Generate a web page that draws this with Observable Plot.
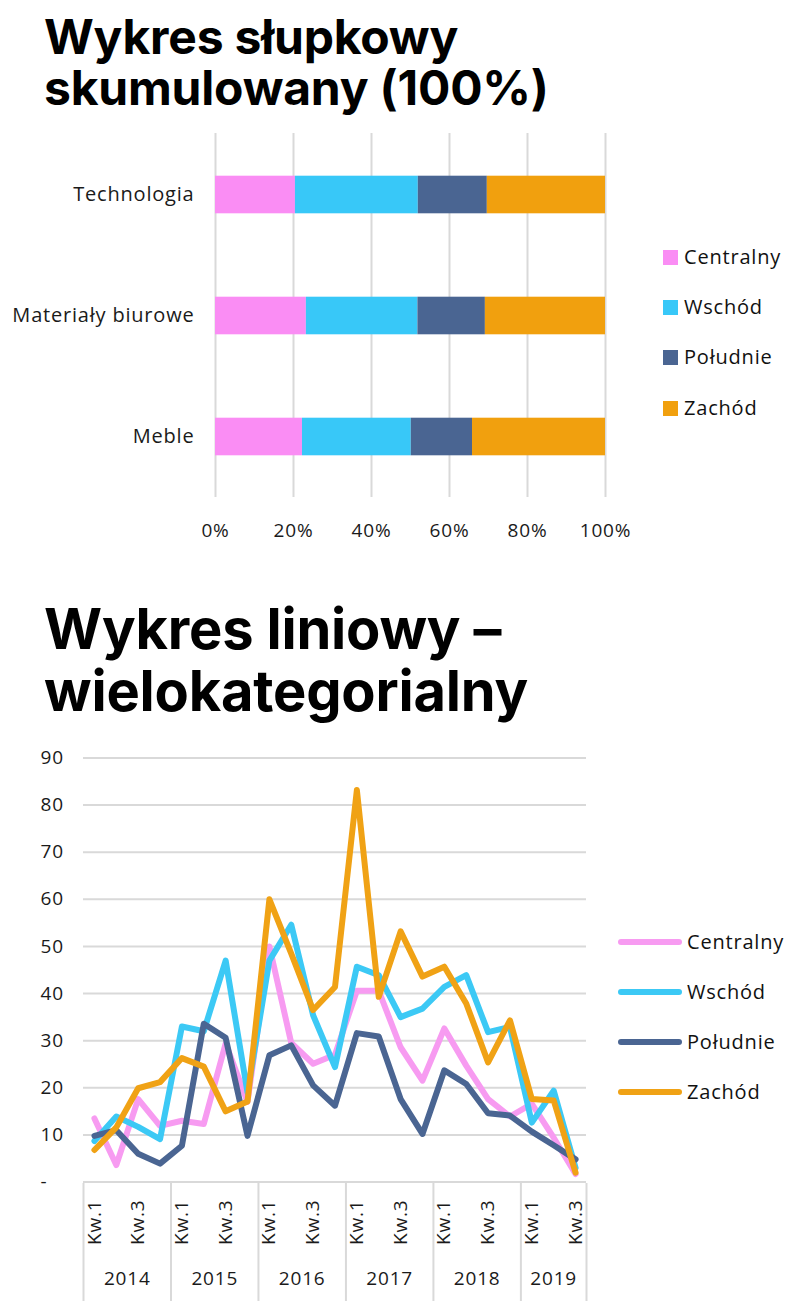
<!DOCTYPE html>
<html><head><meta charset="utf-8">
<script src="https://cdn.jsdelivr.net/npm/d3@7"></script>
<script src="https://cdn.jsdelivr.net/npm/@observablehq/plot@0.6"></script>
<style>
body{margin:0;background:#fff;width:809px;height:1312px;position:relative;overflow:hidden;font-family:"Open Sans",sans-serif;color:#1a1a1a}
.title{position:absolute;left:44px;font-family:Inter,sans-serif;font-weight:700;color:#000;white-space:nowrap}
.chart{position:absolute;left:0}
.chart text{letter-spacing:0.8px}
.leg{position:absolute;font-size:20px;letter-spacing:0.8px;line-height:24px;height:24px;display:flex;align-items:center;white-space:nowrap;color:#111}
.sq{width:15px;height:15px;margin-right:6px}
.ln{width:64px;height:6px;border-radius:3px;margin-right:5px}
</style></head><body>
<div class="title" style="top:11px;font-size:48px;line-height:51px;letter-spacing:-0.2px">Wykres słupkowy<br>skumulowany (100%)</div>
<div class="title" style="top:598px;font-size:56px;line-height:62px;letter-spacing:-0.2px">Wykres liniowy –<br>wielokategorialny</div>
<div id="bar" class="chart" style="top:120px"></div>
<div id="line" class="chart" style="top:730px"></div>
<div id="axis" class="chart" style="top:1183px"></div>
<div id="legs"></div>
<script>
// ---- data: stacked 100% bar chart ----
const regions = ["Centralny", "Wschód", "Południe", "Zachód"];
const barColors = ["#FA8DF4", "#38C8F8", "#4A6592", "#F1A00E"];
const lineColors = ["#F79BF1", "#3CC9F5", "#4A6592", "#F0A215"];
const categories = ["Technologia", "Materiały biurowe", "Meble"];
const shareCentralny = [20.5, 23.3, 22.3];
const shareWschod = [31.5, 28.6, 27.9];
const sharePoludnie = [17.7, 17.3, 15.7];
const shareZachod = [30.3, 30.8, 34.1];
const pctTicks = [0, 0.2, 0.4, 0.6, 0.8, 1];

// ---- data: multi-category line chart ----
const years = [2014, 2015, 2016, 2017, 2018, 2019];
const quartersInYear = [4, 4, 4, 4, 4, 3];
const lineCentralny = [13.5, 3.6, 17.6, 11.9, 13.0, 12.3, 29.4, 17.0, 50.0, 29.5, 25.1, 27.0, 40.6, 40.6, 28.6, 21.5, 32.6, 24.7, 17.6, 13.9, 16.6, 9.4, 1.7];
const lineWschod = [8.7, 13.9, 11.7, 9.1, 33.0, 32.0, 47.0, 19.0, 47.0, 54.6, 35.4, 24.4, 45.7, 43.9, 35.0, 36.8, 41.4, 43.9, 31.8, 32.9, 12.6, 19.4, 3.0];
const linePoludnie = [9.8, 11.0, 6.0, 3.9, 7.7, 33.6, 30.6, 9.8, 26.9, 29.0, 20.5, 16.2, 31.6, 30.9, 17.6, 10.2, 23.7, 20.8, 14.6, 14.1, 10.7, 7.8, 4.8];
const lineZachod = [6.8, 11.6, 19.9, 21.2, 26.3, 24.5, 15.0, 17.1, 60.0, 48.5, 36.5, 41.4, 83.2, 39.3, 53.2, 43.6, 45.7, 37.9, 25.4, 34.3, 17.6, 17.3, 2.0];
const yTicks = [0, 10, 20, 30, 40, 50, 60, 70, 80, 90];

const GRID = "#d9d9d9";
const FONT = "Open Sans";

// ---- bar chart ----
const shares = [shareCentralny, shareWschod, sharePoludnie, shareZachod];
const barData = [];
categories.forEach((c, ci) => regions.forEach((r, ri) => barData.push({cat: c, region: r, value: shares[ri][ci]})));

const bar = Plot.plot({
  width: 640, height: 440,
  marginLeft: 215, marginRight: 35, marginTop: 13, marginBottom: 63,
  style: {fontFamily: FONT, color: "#1a1a1a", background: "transparent", overflow: "visible"},
  x: {domain: [0, 1], label: null},
  y: {domain: categories, padding: 0, label: null},
  color: {domain: regions, range: barColors},
  marks: [
    Plot.gridX(pctTicks, {stroke: GRID, strokeOpacity: 1, strokeWidth: 2}),
    Plot.barX(barData, Plot.stackX({offset: "normalize", order: regions, x: "value", y: "cat", fill: "region", insetTop: 41.7, insetBottom: 41.7})),
    Plot.axisX(pctTicks, {tickSize: 0, tickPadding: 26, fontSize: 19, tickFormat: d => Math.round(d * 100) + "%"}),
    Plot.axisY({tickSize: 0, tickPadding: 21, fontSize: 20})
  ]
});
document.getElementById("bar").appendChild(bar);

// ---- line chart ----
const periods = [];
years.forEach((y, k) => { for (let q = 1; q <= quartersInYear[k]; q++) periods.push({year: y, q, label: "Kw." + q, i: periods.length}); });
const seriesLines = [lineCentralny, lineWschod, linePoludnie, lineZachod];
const lineData = [];
regions.forEach((r, k) => seriesLines[k].forEach((v, i) => lineData.push({region: r, i, v})));

const xDomain = [-0.5, periods.length - 0.5];
const line = Plot.plot({
  width: 809, height: 455,
  marginLeft: 83, marginRight: 223, marginTop: 27.5, marginBottom: 3.5,
  style: {fontFamily: FONT, color: "#1a1a1a", background: "transparent", overflow: "visible"},
  x: {type: "linear", domain: xDomain, axis: null},
  y: {domain: [0, 90], label: null},
  color: {domain: regions, range: lineColors},
  marks: [
    Plot.gridY(yTicks.filter(d => d > 0), {stroke: GRID, strokeOpacity: 1, strokeWidth: 2}),
    Plot.ruleY([0], {stroke: GRID, strokeWidth: 2}),
    Plot.axisY(yTicks, {tickSize: 0, tickPadding: 43, textAnchor: "start", fontSize: 19, tickFormat: d => d === 0 ? "-" : String(d)}),
    Plot.line(lineData, {x: "i", y: "v", z: "region", stroke: "region", strokeWidth: 6, strokeLinejoin: "round", strokeLinecap: "round"})
  ]
});
document.getElementById("line").appendChild(line);

// ---- multi-level category axis ----
const yearSpans = [];
let start = 0;
years.forEach((y, k) => { yearSpans.push({year: String(y), first: start, last: start + quartersInYear[k] - 1, mid: start + (quartersInYear[k] - 1) / 2}); start += quartersInYear[k]; });
const boundaries = [yearSpans[0].first - 0.5, ...yearSpans.map(s => s.last + 0.5)];

const axis = Plot.plot({
  width: 809, height: 118,
  marginLeft: 83, marginRight: 223, marginTop: 0, marginBottom: 0,
  style: {fontFamily: FONT, color: "#1a1a1a", background: "transparent", overflow: "visible"},
  x: {type: "linear", domain: xDomain, axis: null},
  y: {domain: [0, 1], axis: null},
  marks: [
    Plot.ruleX(boundaries, {stroke: GRID, strokeWidth: 2}),
    Plot.text(periods.filter(p => p.q % 2 === 1), {x: "i", text: "label", frameAnchor: "top", lineAnchor: "middle", rotate: -90, textAnchor: "end", dy: 16, fontSize: 19, fill: "#1a1a1a"}),
    Plot.text(yearSpans, {x: "mid", text: "year", frameAnchor: "bottom", lineAnchor: "middle", dy: -23, fontSize: 19, fill: "#1a1a1a"})
  ]
});
document.getElementById("axis").appendChild(axis);

// ---- legends ----
const legs = document.getElementById("legs");
const barLegY = [257, 307, 357, 408];
const lineLegY = [942, 992, 1042, 1092];
regions.forEach((r, k) => {
  const a = document.createElement("div");
  a.className = "leg";
  a.style.left = "663px"; a.style.top = (barLegY[k] - 12) + "px";
  a.innerHTML = `<span class="sq" style="background:${barColors[k]}"></span>${r}`;
  legs.appendChild(a);
  const b = document.createElement("div");
  b.className = "leg";
  b.style.left = "618px"; b.style.top = (lineLegY[k] - 12) + "px";
  b.innerHTML = `<span class="ln" style="background:${lineColors[k]}"></span>${r}`;
  legs.appendChild(b);
});
</script>
</body></html>
